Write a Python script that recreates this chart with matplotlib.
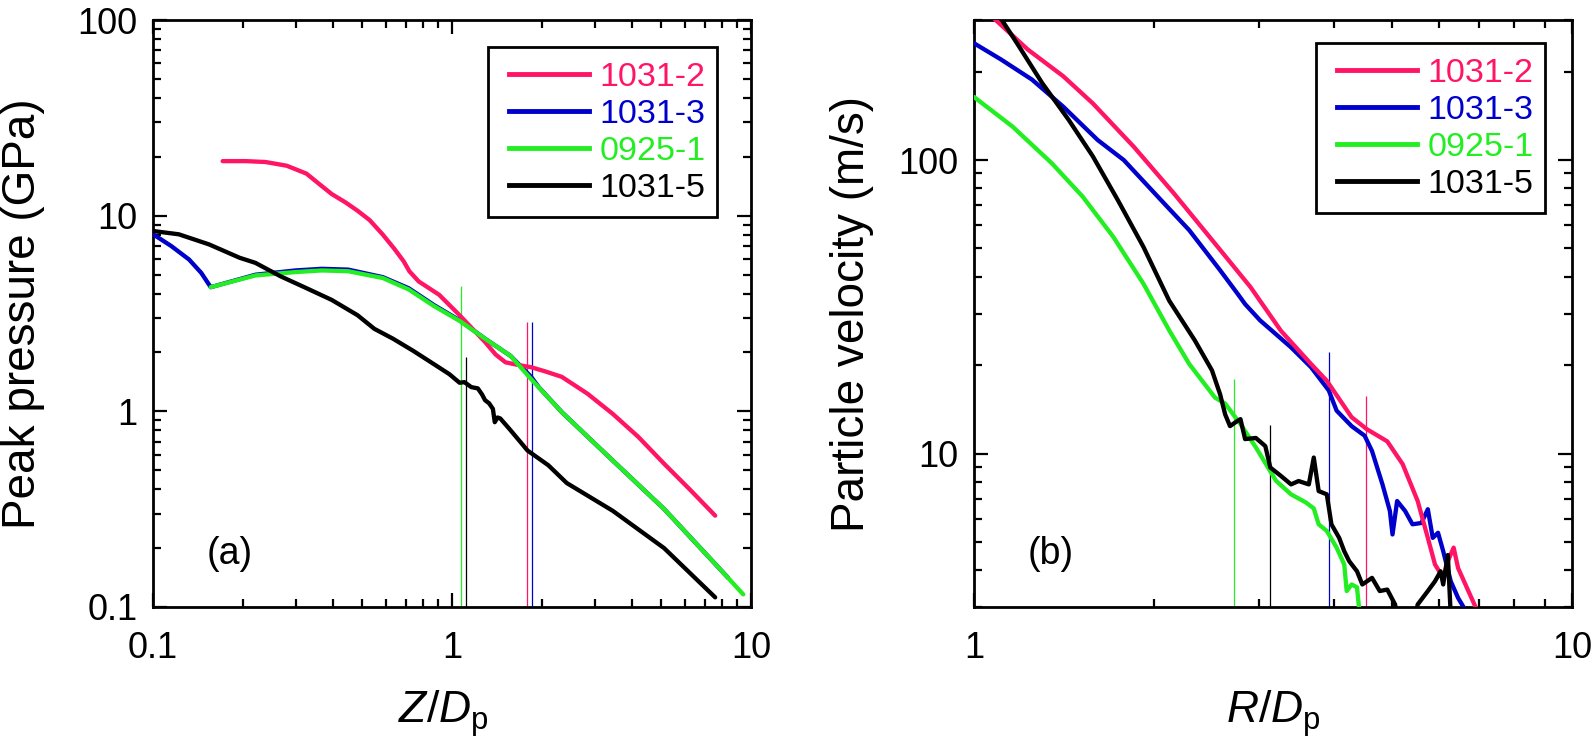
import matplotlib
matplotlib.use('Agg')
import matplotlib.pyplot as plt
from matplotlib.ticker import LogLocator, FixedLocator, FuncFormatter, NullFormatter
from matplotlib.patches import Rectangle
from matplotlib.lines import Line2D

plt.rcParams['font.family'] = ['Liberation Sans', 'DejaVu Sans']
plt.rcParams['mathtext.fontset'] = 'custom'
plt.rcParams['mathtext.rm'] = 'Liberation Sans'
plt.rcParams['mathtext.it'] = 'Liberation Sans:italic'

# ---------------- data ----------------
series_names = ['1031-2', '1031-3', '0925-1', '1031-5']
series_colors = ['#ff1466', '#0000cc', '#22ee22', '#000000']

# (a) peak pressure vs Z/Dp
a_pink_x = [0.171, 0.205, 0.238, 0.28, 0.326, 0.36, 0.396, 0.44, 0.483, 0.53, 0.587, 0.64, 0.689,
            0.72, 0.774, 0.83, 0.906, 1.06, 1.29, 1.40, 1.51, 1.65, 1.84, 2.05, 2.33, 2.84, 3.45,
            4.20, 5.12, 6.23, 7.59]
a_pink_y = [19.0, 19.0, 18.8, 18.0, 16.4, 14.5, 12.9, 11.7, 10.6, 9.5, 8.0, 6.8, 5.85,
            5.2, 4.61, 4.3, 3.94, 3.10, 2.26, 1.95, 1.78, 1.73, 1.68, 1.60, 1.50, 1.23, 0.97,
            0.74, 0.54, 0.40, 0.293]
a_blue_x = [0.100, 0.115, 0.132, 0.145, 0.156, 0.22, 0.30, 0.367, 0.45, 0.587, 0.716, 0.871, 1.06,
            1.29, 1.57, 1.84, 1.95, 2.33, 3.45, 5.12, 7.59, 8.38]
a_blue_y = [8.04, 7.0, 5.97, 5.1, 4.31, 4.99, 5.25, 5.35, 5.3, 4.85, 4.26, 3.49, 2.92,
            2.35, 1.92, 1.50, 1.33, 0.99, 0.56, 0.317, 0.166, 0.141]
a_green_x = [0.156, 0.22, 0.30, 0.367, 0.45, 0.587, 0.716, 0.871, 1.06, 1.29, 1.57, 1.84,
             2.33, 3.45, 5.12, 7.59, 9.42]
a_green_y = [4.31, 4.95, 5.15, 5.25, 5.2, 4.8, 4.2, 3.45, 2.9, 2.35, 1.92, 1.46,
             0.99, 0.56, 0.317, 0.166, 0.116]
a_black_x = [0.100, 0.122, 0.154, 0.195, 0.22, 0.267, 0.326, 0.396, 0.483, 0.55, 0.635, 0.741,
             0.871, 0.979, 1.06, 1.10, 1.16, 1.22, 1.26, 1.29, 1.33, 1.37, 1.39, 1.42, 1.45,
             1.57, 1.79, 2.1, 2.42, 3.45, 5.12, 7.59]
a_black_y = [8.35, 8.03, 7.13, 6.09, 5.74, 4.90, 4.26, 3.71, 3.10, 2.64, 2.35, 2.04,
             1.74, 1.55, 1.40, 1.41, 1.33, 1.31, 1.22, 1.14, 1.10, 1.03, 0.88, 0.93, 0.92,
             0.80, 0.63, 0.53, 0.43, 0.31, 0.20, 0.112]
a_mark_x = [1.78, 1.85, 1.07, 1.11]     # pink, blue, green, black
a_mark_top = [2.86, 2.86, 4.35, 1.89]

# (b) particle velocity vs R/Dp
b_pink_x = [1.05, 1.23, 1.41, 1.58, 1.85, 2.16, 2.53, 2.90, 3.26, 3.66, 3.89, 4.28, 4.54, 4.91,
            5.21, 5.52, 5.74, 5.90, 6.09, 6.20, 6.34, 6.45, 6.71, 6.95]
b_pink_y = [320, 238, 193, 156, 111, 76.9, 51.9, 36.9, 26.2, 20.2, 17.7, 13.3, 12.1, 11.0,
            9.2, 6.89, 5.16, 4.19, 3.77, 4.3, 4.78, 4.07, 3.40, 2.9]
b_blue_x = [1.0, 1.11, 1.25, 1.41, 1.61, 1.78, 2.08, 2.29, 2.58, 2.76, 2.84, 3.01, 3.39, 3.66,
            3.92, 4.04, 4.28, 4.50, 4.63, 4.82, 4.96, 5.01, 5.10, 5.26, 5.41, 5.60, 5.74, 5.85,
            5.97, 6.09, 6.27, 6.45, 6.65]
b_blue_y = [250, 220, 188, 152, 117, 100, 71.1, 57.7, 42.1, 35.0, 32.3, 28.4, 23.0, 19.7,
            16.4, 14.0, 12.4, 11.5, 10.2, 7.85, 6.37, 5.3, 6.89, 6.37, 5.74, 5.8, 6.46, 5.16,
            5.37, 4.65, 3.67, 3.22, 2.9]
b_green_x = [1.0, 1.16, 1.35, 1.52, 1.71, 1.92, 2.12, 2.29, 2.53, 2.63, 2.79, 2.96, 3.20, 3.39,
             3.59, 3.70, 3.77, 3.89, 4.04, 4.16, 4.20, 4.28, 4.37, 4.41]
b_green_y = [164, 130, 97.4, 75, 54.7, 37.9, 26.3, 20.2, 15.5, 14.8, 12.6, 10.5, 8.07, 7.26,
             6.81, 6.5, 5.74, 5.45, 4.78, 4.19, 3.40, 3.58, 3.5, 2.9]
b_black_x = [1.08, 1.18, 1.30, 1.44, 1.58, 1.74, 1.92, 2.12, 2.34, 2.50, 2.58, 2.63, 2.68, 2.74,
             2.79, 2.84, 2.96, 3.07, 3.13, 3.26, 3.39, 3.49, 3.63, 3.70, 3.77, 3.89, 3.96, 4.08,
             4.16, 4.24, 4.37, 4.46, 4.63, 4.77, 4.91, 5.06, 5.12, 5.45, 5.52, 5.74, 5.90, 6.03,
             6.09, 6.20, 6.27]
b_black_y = [330, 250, 183, 137, 103, 73, 50.6, 33.2, 24.3, 19.2, 15.9, 13.6, 12.4, 12.8,
             13.1, 11.2, 11.3, 10.6, 8.96, 8.39, 7.85, 8.06, 7.85, 9.69, 7.45, 7.26, 5.74, 5.16,
             4.65, 4.3, 3.97, 3.58, 3.77, 3.40, 3.44, 3.06, 2.7, 2.7, 3.06, 3.40, 3.67, 3.97,
             3.58, 4.51, 2.8]
b_mark_x = [4.53, 3.92, 2.72, 3.12]
b_mark_top = [15.7, 22.1, 17.9, 12.5]

a_xticks = [0.1, 1, 10]
a_yticks = [0.1, 1, 10, 100]
b_xticks = [1, 10]
b_yticks = [10, 100]

# ---------------- figure ----------------
W, H = 1594, 737
fig = plt.figure(figsize=(W / 100, H / 100), dpi=100)
axL = fig.add_axes([153 / W, 1 - 607 / H, 598 / W, 587 / H])
axR = fig.add_axes([974 / W, 1 - 607 / H, 598 / W, 587 / H])


def style(ax, xlim, ylim, xt, yt):
    ax.set_xscale('log')
    ax.set_yscale('log')
    ax.set_xlim(*xlim)
    ax.set_ylim(*ylim)
    ax.xaxis.set_major_locator(FixedLocator(xt))
    ax.yaxis.set_major_locator(FixedLocator(yt))
    ax.xaxis.set_minor_locator(LogLocator(base=10, subs=range(2, 10), numticks=30))
    ax.yaxis.set_minor_locator(LogLocator(base=10, subs=range(2, 10), numticks=30))
    fmt = FuncFormatter(lambda v, p: '%g' % v)
    ax.xaxis.set_major_formatter(fmt)
    ax.yaxis.set_major_formatter(fmt)
    ax.xaxis.set_minor_formatter(NullFormatter())
    ax.yaxis.set_minor_formatter(NullFormatter())
    ax.tick_params(which='both', direction='in', top=True, right=True, width=1.6, colors='black')
    ax.tick_params(which='major', length=10)
    ax.tick_params(which='minor', length=5.5)
    ax.tick_params(axis='x', which='major', pad=17, labelsize=26)
    ax.tick_params(axis='y', which='major', pad=11, labelsize=26)
    for s in ax.spines.values():
        s.set_linewidth(2)


def draw(ax, xs, ys, marks_x, marks_top, ybot):
    order = [1, 0, 2, 3]
    for i in order:
        ax.plot(xs[i], ys[i], color=series_colors[i], lw=3.1, solid_joinstyle='round',
                solid_capstyle='round', zorder=3)
    for i in range(4):
        ax.vlines(marks_x[i], ybot, marks_top[i], colors=series_colors[i], lw=0.9, zorder=2)


def legend(ax, box, hx, cy):
    ax.add_patch(Rectangle((box[0], box[1]), box[2], box[3], transform=ax.transAxes,
                           facecolor='white', edgecolor='black', lw=2, zorder=5))
    handles = [Line2D([], [], color=c, lw=3.5) for c in series_colors]
    leg = ax.legend(handles, series_names, loc='center left', bbox_to_anchor=(hx, cy),
                    frameon=False, fontsize=24.5, handlelength=2.35, handletextpad=0.32,
                    labelspacing=0.18, borderpad=0, borderaxespad=0, labelcolor='linecolor')
    leg.set_zorder(6)


style(axL, (0.1, 10), (0.1, 100), a_xticks, a_yticks)
draw(axL, [a_pink_x, a_blue_x, a_green_x, a_black_x], [a_pink_y, a_blue_y, a_green_y, a_black_y],
     a_mark_x, a_mark_top, 0.1)
legend(axL, (0.560, 0.664, 0.383, 0.290), 0.595, 0.8075)
axL.text(0.128, 0.09, '(a)', transform=axL.transAxes, ha='center', va='center', fontsize=27)
axL.set_ylabel('Peak pressure (GPa)', fontsize=33)
axL.yaxis.set_label_coords(-0.181, 0.5)
axL.set_xlabel(r'$Z/D_{\mathrm{p}}$', fontsize=32)
axL.xaxis.set_label_coords(0.485, -0.138)

style(axR, (1, 10), (3, 300), b_xticks, b_yticks)
draw(axR, [b_pink_x, b_blue_x, b_green_x, b_black_x], [b_pink_y, b_blue_y, b_green_y, b_black_y],
     b_mark_x, b_mark_top, 3)
legend(axR, (0.572, 0.671, 0.383, 0.290), 0.607, 0.814)
axR.text(0.128, 0.09, '(b)', transform=axR.transAxes, ha='center', va='center', fontsize=27)
axR.set_ylabel('Particle velocity (m/s)', fontsize=33)
axR.yaxis.set_label_coords(-0.167, 0.5)
axR.set_xlabel(r'$R/D_{\mathrm{p}}$', fontsize=32)
axR.xaxis.set_label_coords(0.5, -0.138)

fig.savefig('out.png', dpi=100)
